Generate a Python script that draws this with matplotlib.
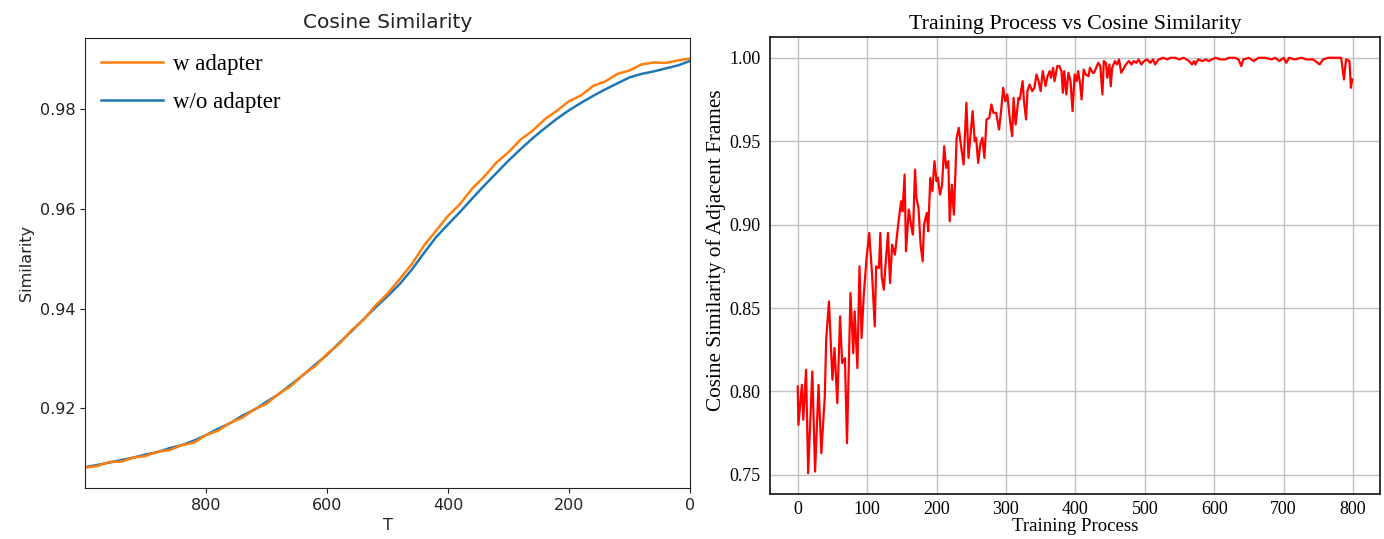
import matplotlib
matplotlib.use("Agg")
import matplotlib.pyplot as plt

# ---------------- Left chart data ----------------
T_steps = [1000, 980, 960, 940, 920, 900, 880, 860, 840, 820, 800, 780, 760, 740, 720,
           700, 680, 660, 640, 620, 600, 580, 560, 540, 520, 500, 480, 460, 440, 420,
           400, 380, 360, 340, 320, 300, 280, 260, 240, 220, 200, 180, 160, 140, 120,
           100, 80, 60, 40, 20, 0]
sim_w_adapter = [0.9081, 0.9084, 0.9092, 0.9093, 0.9101, 0.9104, 0.9113, 0.9116, 0.9126, 0.9131,
                 0.9146, 0.9155, 0.9171, 0.9181, 0.9198, 0.9209, 0.9229, 0.9244, 0.9267, 0.9284,
                 0.9309, 0.9329, 0.9356, 0.9377, 0.9406, 0.9430, 0.9459, 0.9489, 0.9526, 0.9556,
                 0.9586, 0.9610, 0.9641, 0.9665, 0.9693, 0.9714, 0.9739, 0.9757, 0.9780, 0.9797,
                 0.9816, 0.9828, 0.9847, 0.9856, 0.9871, 0.9878, 0.9890, 0.9894, 0.9893, 0.9898, 0.9902]
sim_wo_adapter = [0.9082, 0.9086, 0.9091, 0.9096, 0.9101, 0.9107, 0.9112, 0.9120, 0.9126, 0.9135,
                  0.9146, 0.9159, 0.9170, 0.9185, 0.9197, 0.9213, 0.9228, 0.9247, 0.9266, 0.9287,
                  0.9307, 0.9331, 0.9354, 0.9378, 0.9402, 0.9425, 0.9449, 0.9478, 0.9511, 0.9543,
                  0.9569, 0.9594, 0.9621, 0.9647, 0.9672, 0.9697, 0.9720, 0.9742, 0.9762, 0.9781,
                  0.9798, 0.9813, 0.9827, 0.9840, 0.9852, 0.9864, 0.9871, 0.9876, 0.9882, 0.9888, 0.9897]
left_yticks = [0.92, 0.94, 0.96, 0.98]
left_xticks = [800, 600, 400, 200, 0]

# ---------------- Right chart data ----------------
train_step = [0, 1, 6, 8, 12, 15, 18, 21, 25, 30, 34, 39, 41, 45, 50, 53, 57, 61, 64, 68,
              71, 76, 80, 82, 86, 89, 92, 95, 99, 101, 103, 107, 111, 113, 117, 119, 121, 124, 126, 130,
              133, 136, 140, 145, 149, 151, 154, 156, 160, 164, 166, 169, 171, 174, 177, 180, 182, 186, 188, 191,
              194, 197, 200, 202, 205, 208, 211, 214, 217, 219, 222, 225, 229, 232, 235, 239, 243, 246, 249, 252,
              255, 257, 260, 263, 266, 269, 272, 276, 279, 282, 286, 290, 293, 296, 299, 302, 306, 309, 311, 314,
              318, 320, 324, 326, 329, 331, 334, 338, 341, 344, 347, 350, 353, 357, 360, 363, 365, 368, 370, 374,
              377, 380, 382, 384, 387, 390, 393, 396, 399, 402, 404, 407, 409, 412, 415, 419, 421, 425, 427, 431,
              433, 436, 439, 441, 444, 446, 449, 451, 453, 457, 460, 463, 466, 470, 473, 477, 481, 484, 488, 491,
              495, 499, 503, 508, 512, 515, 520, 527, 532, 537, 544, 550, 556, 564, 568, 571, 573, 577, 583, 588,
              592, 597, 602, 609, 616, 621, 630, 635, 639, 642, 650, 657, 664, 673, 683, 688, 694, 700, 704, 708,
              716, 726, 733, 742, 746, 752, 757, 764, 773, 783, 787, 790, 795, 797, 799]
adj_similarity = [0.803, 0.780, 0.804, 0.783, 0.813, 0.751, 0.781, 0.812, 0.752, 0.804, 0.763, 0.797, 0.831, 0.854, 0.807, 0.826, 0.793, 0.845, 0.817, 0.820,
                  0.769, 0.859, 0.823, 0.848, 0.814, 0.875, 0.832, 0.857, 0.879, 0.887, 0.895, 0.871, 0.839, 0.875, 0.874, 0.895, 0.869, 0.861, 0.873, 0.895,
                  0.865, 0.888, 0.882, 0.901, 0.914, 0.908, 0.930, 0.884, 0.909, 0.898, 0.894, 0.933, 0.916, 0.910, 0.888, 0.878, 0.900, 0.907, 0.896, 0.928,
                  0.920, 0.938, 0.926, 0.928, 0.918, 0.924, 0.947, 0.934, 0.938, 0.902, 0.924, 0.906, 0.952, 0.958, 0.948, 0.936, 0.973, 0.940, 0.954, 0.968,
                  0.950, 0.952, 0.937, 0.948, 0.952, 0.940, 0.963, 0.964, 0.972, 0.967, 0.967, 0.957, 0.968, 0.982, 0.974, 0.978, 0.962, 0.953, 0.976, 0.960,
                  0.976, 0.975, 0.986, 0.974, 0.963, 0.980, 0.984, 0.980, 0.982, 0.990, 0.986, 0.980, 0.992, 0.983, 0.989, 0.992, 0.988, 0.994, 0.986, 0.995,
                  0.995, 0.992, 0.979, 0.992, 0.978, 0.991, 0.986, 0.968, 0.990, 0.986, 0.992, 0.984, 0.975, 0.993, 0.990, 0.989, 0.994, 0.991, 0.991, 0.995,
                  0.997, 0.995, 0.978, 0.998, 0.997, 0.988, 0.996, 0.983, 0.994, 0.998, 0.996, 0.999, 0.991, 0.994, 0.996, 0.998, 0.996, 0.998, 0.997, 0.999,
                  0.996, 0.998, 0.999, 0.997, 0.999, 0.996, 0.999, 1.000, 0.999, 1.000, 1.000, 0.999, 1.000, 0.998, 0.996, 0.998, 0.996, 0.999, 0.998, 0.999,
                  0.998, 0.999, 1.000, 0.999, 0.999, 1.000, 1.000, 0.999, 0.995, 0.999, 1.000, 0.998, 1.000, 1.000, 0.999, 1.000, 0.998, 1.000, 0.997, 1.000,
                  0.999, 1.000, 0.999, 0.999, 0.998, 0.996, 0.999, 1.000, 1.000, 1.000, 0.987, 0.999, 0.998, 0.982, 0.987]
right_xticks = [0, 100, 200, 300, 400, 500, 600, 700, 800]
right_yticks = [0.75, 0.80, 0.85, 0.90, 0.95, 1.00]

W, H = 1384, 539
fig = plt.figure(figsize=(W / 100, H / 100), dpi=100)

# ---------------- Left axes ----------------
axL = fig.add_axes([85 / W, (H - 488) / H, (690 - 85) / W, (488 - 38) / H])
lb, = axL.plot(T_steps, sim_wo_adapter, color="#1f77b4", lw=1.8)
lo, = axL.plot(T_steps, sim_w_adapter, color="#ff7f0e", lw=1.8)
axL.set_xlim(1000, 0)
axL.margins(y=0.05)
axL.set_xticks(left_xticks)
axL.set_yticks(left_yticks)
axL.set_yticklabels([f"{v:.2f}" for v in left_yticks])
axL.tick_params(labelsize=11.5, colors="#222222")
axL.set_title("Cosine Similarity", fontsize=14.5, color="#222222", pad=7)
axL.set_xlabel("T", fontsize=11.5, color="#222222")
axL.set_ylabel("Similarity", fontsize=11.5, color="#222222")
for s in axL.spines.values():
    s.set_color("#222222")
axL.legend([lo, lb], ["w adapter", "w/o adapter"], loc="upper left", frameon=False,
           prop={"family": "Liberation Serif", "size": 16.5}, handlelength=2.7,
           labelspacing=0.75, borderaxespad=0.3, handletextpad=0.45)

# ---------------- Right axes ----------------
serif = "Liberation Serif"
axR = fig.add_axes([770 / W, (H - 494) / H, (1380 - 770) / W, (494 - 37) / H])
axR.plot(train_step, adj_similarity, color="#ff0000", lw=1.6)
axR.margins(x=0.05, y=0.05)
axR.set_xticks(right_xticks)
axR.set_yticks(right_yticks)
axR.set_xticklabels([str(v) for v in right_xticks], fontfamily=serif, fontsize=13)
axR.set_yticklabels([f"{v:.2f}" for v in right_yticks], fontfamily=serif, fontsize=13)
axR.tick_params(axis="y", length=0, pad=7)
axR.tick_params(axis="x", length=0, pad=5)
axR.grid(True, color="#c0c0c0", lw=1.0)
axR.set_axisbelow(True)
axR.set_title("Training Process vs Cosine Similarity", fontfamily=serif, fontsize=15.8, pad=6)
axR.set_xlabel("Training Process", fontfamily=serif, fontsize=13.5, labelpad=0)
axR.set_ylabel("Cosine Similarity of Adjacent Frames", fontfamily=serif, fontsize=15.3)
axR.yaxis.set_label_coords(-0.072, 0.534)
for s in axR.spines.values():
    s.set_color("#111111")
    s.set_linewidth(1.2)

fig.savefig("out.png", dpi=100)
